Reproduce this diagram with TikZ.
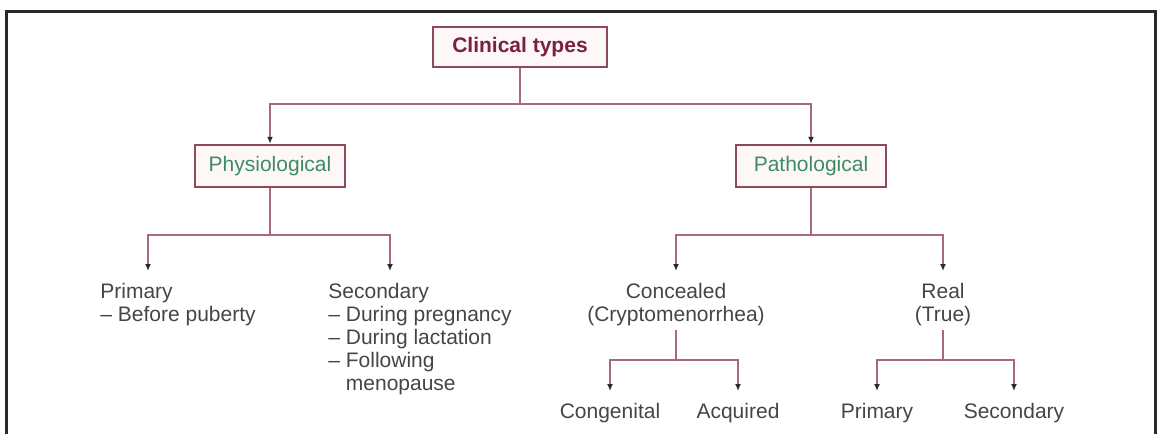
\documentclass[tikz,border=0pt]{standalone}
\usepackage{fontspec}
\setmainfont{Liberation Sans}
\usetikzlibrary{arrows.meta}
\definecolor{boxred}{HTML}{8E4A5A}
\definecolor{boxfill}{HTML}{FDF7F7}
\definecolor{linkred}{HTML}{A86A78}
\definecolor{titlered}{HTML}{7A2140}
\definecolor{leafgreen}{HTML}{3C8C64}
\definecolor{leafgray}{HTML}{454545}
\definecolor{tipdark}{HTML}{2A2A2A}
\definecolor{framegray}{HTML}{2A2A2A}
\begin{document}
\begin{tikzpicture}[x=0.5pt,y=-0.5pt,
  every node/.style={font=\fontsize{10.5}{11.5}\selectfont},
  box/.style={draw=boxred,line width=1.2pt,fill=boxfill,text=leafgreen,
    minimum width=75pt,minimum height=21pt,inner sep=0pt},
  leaf/.style={text=leafgray,inner sep=0pt},
  link/.style={draw=linkred,line width=1pt},
  arr/.style={-{Latex[length=3.5pt,width=3pt,color=tipdark]}},
  leafarr/.style={arr,shorten >=6pt}]
\useasboundingbox (0,0) rectangle (1157,434);
% frame
\draw[framegray,line width=1.5pt] (6,434) -- (6,11) -- (1155,11) -- (1155,434);

\node[box,minimum width=87pt,minimum height=20pt,text=titlered,
  font=\fontsize{10.5}{11.5}\selectfont\bfseries] (ct) at (520,47) {Clinical types};
\node[box] (phys) at (270,166) {Physiological};
\node[box] (path) at (811,166) {Pathological};

\node[leaf,anchor=north west,align=left] (prim) at (100,283) {Primary\\– Before puberty};
\node[leaf,anchor=north west,align=left] (sec) at (328,283)
  {Secondary\\– During pregnancy\\– During lactation\\– Following\\\hphantom{– }menopause};
\node[leaf,anchor=north,align=center] (conc) at (676,283) {Concealed\\(Cryptomenorrhea)};
\node[leaf,anchor=north,align=center] (real) at (943,283) {Real\\(True)};

\node[leaf,anchor=north] (cong) at (610,403) {Congenital};
\node[leaf,anchor=north] (acq) at (738,403) {Acquired};
\node[leaf,anchor=north] (rprim) at (877,403) {Primary};
\node[leaf,anchor=north] (rsec) at (1014,403) {Secondary};

% branch points
\coordinate (top bar) at (520,104);
\coordinate (phys bar) at (270,235);
\coordinate (path bar) at (811,235);
\coordinate (conc bar) at (676,360);
\coordinate (real bar) at (943,360);

\draw[link] (ct.south) -- (top bar);
\draw[link,arr] (top bar) -| (phys.north);
\draw[link,arr] (top bar) -| (path.north);

\draw[link] (phys.south) -- (phys bar);
\draw[link,leafarr] (phys bar) -| ([xshift=24pt]prim.north west);
\draw[link,leafarr] (phys bar) -| ([xshift=31pt]sec.north west);

\draw[link] (path.south) -- (path bar);
\draw[link,leafarr] (path bar) -| (conc.north);
\draw[link,leafarr] (path bar) -| (real.north);

\draw[link,shorten <=2pt] (conc.south) -- (conc bar);
\draw[link,leafarr] (conc bar) -| (cong.north);
\draw[link,leafarr] (conc bar) -| (acq.north);

\draw[link,shorten <=2pt] (real.south) -- (real bar);
\draw[link,leafarr] (real bar) -| (rprim.north);
\draw[link,leafarr] (real bar) -| (rsec.north);
\end{tikzpicture}
\end{document}
